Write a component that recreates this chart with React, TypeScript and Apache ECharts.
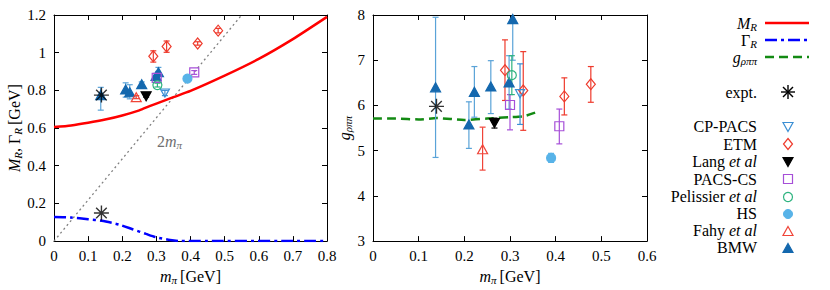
import React, { useEffect, useRef } from 'react';
import * as echarts from 'echarts';

// ---------- data ----------
// curves (left panel): [mπ, value]
const curveMassR = [[0, 0.605], [0.05, 0.614], [0.1, 0.628], [0.15, 0.645], [0.2, 0.667], [0.25, 0.694], [0.28, 0.716], [0.3, 0.73], [0.35, 0.764], [0.4, 0.797], [0.5, 0.878], [0.6, 0.967], [0.7, 1.072], [0.8, 1.19]];
const curveWidthR = [[0, 0.128], [0.05, 0.125], [0.1, 0.116], [0.14, 0.108], [0.19, 0.088], [0.23, 0.063], [0.27, 0.038], [0.3, 0.02], [0.34, 0.006], [0.37, 0], [0.8, 0]];
const line2mPi = [[0, 0], [0.55, 1.2]];
// curve (right panel)
const curveCoupling = [[0, 5.71], [0.05, 5.71], [0.1, 5.69], [0.14, 5.72], [0.2, 5.68], [0.25, 5.71], [0.3, 5.74], [0.33, 5.76], [0.355, 5.84]];

// lattice points: [mπ, value, low, high]
const expMass = [[0.139, 0.775], [0.139, 0.149]];
const expCoupling = [[0.139, 5.98]];

const cpPacsM = [[0.325, 0.786, 0.772, 0.8]];
const cpPacsG = [[0.322, 6.26, 5.58, 6.92]];
const etmM = [[0.291, 0.981, 0.95, 1.01], [0.33, 1.033, 1.002, 1.062], [0.421, 1.049, 1.04, 1.058], [0.481, 1.117, 1.105, 1.129]];
const etmG = [[0.289, 6.78, 6.11, 7.45], [0.329, 6.33, 5.45, 7.19], [0.419, 6.2, 5.79, 6.61], [0.477, 6.47, 6.07, 6.86]];
const langM = [[0.27, 0.769, 0.764, 0.774]];
const langG = [[0.266, 5.61, 5.5, 5.72]];
const pacsCsM = [[0.301, 0.866, 0.85, 0.882], [0.411, 0.895, 0.885, 0.905]];
const pacsCsG = [[0.3, 6.01, 5.46, 6.24], [0.408, 5.54, 5.15, 5.92]];
const pelissierM = [[0.303, 0.828, 0.818, 0.838]];
const pelissierG = [[0.304, 6.67, 6.24, 7.1]];
const hsM = [[0.391, 0.862, 0.855, 0.869]];
const hsG = [[0.39, 4.84, 4.74, 4.94]];
const fahyM = [[0.241, 0.764, 0.756, 0.772]];
const fahyG = [[0.24, 5.03, 4.57, 5.52]];
const bmwM = [[0.137, 0.775, 0.695, 0.816], [0.21, 0.805, 0.764, 0.84], [0.222, 0.79, 0.755, 0.83], [0.257, 0.833, 0.822, 0.845], [0.299, 0.876, 0.862, 0.89], [0.306, 0.896, 0.878, 0.922]];
const bmwG = [[0.137, 6.4, 4.85, 7.95], [0.21, 5.58, 5.05, 6.08], [0.222, 6.3, 5.74, 6.86], [0.258, 6.42, 5.82, 6.99], [0.298, 6.51, 5.92, 7.1], [0.306, 7.91, 7.0, 8.8]];

const leftXTicks = { min: 0, max: 0.8, interval: 0.1 };
const leftYTicks = { min: 0, max: 1.2, interval: 0.2 };
const rightXTicks = { min: 0, max: 0.6, interval: 0.1 };
const rightYTicks = { min: 3, max: 8, interval: 1 };

// ---------- styling ----------
const FONT = 'Liberation Serif';
const C = {
  mass: '#ff0000',
  width: '#0000ff',
  coup: '#138a13',
  cp: '#3b8fd4',
  etm: '#ee3a2c',
  lang: '#000000',
  pacs: '#a64fd8',
  pel: '#2db37f',
  hs: '#58b3e8',
  fahy: '#f04438',
  bmw: '#1468ae',
  bmwErr: '#5aa3d8',
};
const STAR = 'path://M10,0L10,20M0,10L20,10M2.93,2.93L17.07,17.07M2.93,17.07L17.07,2.93';
// rich styles for ECharts model texts (axis names)
const RICH = {
  i: { fontFamily: FONT, fontStyle: 'italic', fontSize: 16, color: '#000' },
  n: { fontFamily: FONT, fontSize: 16, color: '#000' },
  s: { fontFamily: FONT, fontStyle: 'italic', fontSize: 11, color: '#000', padding: [7, 0, 0, 0] },
};
// rich styles for graphic texts (zrender props)
const RICHG = {
  i: { fontFamily: FONT, fontStyle: 'italic', fontSize: 16, fill: '#000' },
  n: { fontFamily: FONT, fontSize: 16, fill: '#000' },
  s: { fontFamily: FONT, fontStyle: 'italic', fontSize: 11, fill: '#000', padding: [7, 0, 0, 0] },
};

function errSeries(data: number[][], color: string, xi: number, yi: number) {
  return {
    type: 'custom',
    xAxisIndex: xi,
    yAxisIndex: yi,
    data,
    clip: true,
    silent: true,
    z: 3,
    renderItem: (_p: any, api: any) => {
      const x = api.value(0);
      const a = api.coord([x, api.value(2)]);
      const b = api.coord([x, api.value(3)]);
      const w = 3;
      const st = { stroke: color, lineWidth: 1.2 };
      return {
        type: 'group',
        children: [
          { type: 'line', shape: { x1: a[0], y1: a[1], x2: b[0], y2: b[1] }, style: st },
          { type: 'line', shape: { x1: a[0] - w, y1: a[1], x2: a[0] + w, y2: a[1] }, style: st },
          { type: 'line', shape: { x1: b[0] - w, y1: b[1], x2: b[0] + w, y2: b[1] }, style: st },
        ],
      };
    },
  };
}

function ptSeries(data: number[][], xi: number, yi: number, symbol: string, size: number | number[], fill: string, stroke: string, rotate = 0, z = 5) {
  return {
    type: 'scatter',
    xAxisIndex: xi,
    yAxisIndex: yi,
    data: data.map((d) => [d[0], d[1]]),
    symbol,
    symbolSize: size,
    symbolRotate: rotate,
    silent: true,
    z,
    itemStyle: { color: fill, borderColor: stroke, borderWidth: 1.2, opacity: 1 },
  };
}

function lineSeries(data: number[][], xi: number, yi: number, color: string, type: any, width: number) {
  return {
    type: 'line',
    xAxisIndex: xi,
    yAxisIndex: yi,
    data,
    showSymbol: false,
    smooth: 0.2,
    silent: true,
    z: 2,
    lineStyle: { color, width, type },
  };
}

const NONE = 'rgba(0,0,0,0)';

function pointGroups(xi: number, yi: number, side: 'M' | 'G') {
  const L = side === 'M';
  const s: any[] = [];
  const groups: [number[][], string, string, string, number | number[], string, number][] = [
    [L ? bmwM : bmwG, C.bmwErr, 'triangle', C.bmw, [10, 9], C.bmw, 0],
    [L ? etmM : etmG, C.etm, 'diamond', NONE, [9, 11], C.etm, 0],
    [L ? cpPacsM : cpPacsG, C.cp, 'triangle', NONE, [9, 8], C.cp, 180],
    [L ? langM : langG, C.lang, 'triangle', C.lang, [10, 9], C.lang, 180],
    [L ? pacsCsM : pacsCsG, C.pacs, 'rect', NONE, 9, C.pacs, 0],
    [L ? pelissierM : pelissierG, C.pel, 'circle', NONE, 9, C.pel, 0],
    [L ? hsM : hsG, C.hs, 'circle', C.hs, 9, C.hs, 0],
    [L ? fahyM : fahyG, C.fahy, 'triangle', NONE, [10, 9], C.fahy, 0],
  ];
  for (const [d, ec, sym, fill, size, stroke, rot] of groups) {
    s.push(errSeries(d, ec, xi, yi));
    s.push(ptSeries(d, xi, yi, sym, size, fill, stroke, rot));
  }
  s.push({
    type: 'scatter',
    xAxisIndex: xi,
    yAxisIndex: yi,
    data: L ? expMass : expCoupling,
    symbol: STAR,
    symbolSize: 15,
    silent: true,
    z: 8,
    itemStyle: { color: NONE, borderColor: '#000', borderWidth: 1.4 },
  });
  return s;
}

function axisX(grid: number, t: any, pos: 'bottom' | 'top', name?: string) {
  return {
    type: 'value',
    gridIndex: grid,
    position: pos,
    min: t.min,
    max: t.max,
    interval: t.interval,
    axisLine: { show: true, onZero: false, lineStyle: { color: '#000', width: 1 } },
    axisTick: { show: true, inside: true, length: 5, lineStyle: { color: '#000', width: 1 } },
    axisLabel: { show: pos === 'bottom', color: '#000', fontFamily: FONT, fontSize: 15, margin: 7 },
    splitLine: { show: false },
    name: name || '',
    nameLocation: 'middle',
    nameGap: 25,
    nameTextStyle: { rich: RICH },
  };
}
function axisY(grid: number, t: any, pos: 'left' | 'right', name?: string, gap = 30) {
  return {
    type: 'value',
    gridIndex: grid,
    position: pos,
    min: t.min,
    max: t.max,
    interval: t.interval,
    axisLine: { show: true, onZero: false, lineStyle: { color: '#000', width: 1 } },
    axisTick: { show: true, inside: true, length: 5, lineStyle: { color: '#000', width: 1 } },
    axisLabel: { show: pos === 'left', color: '#000', fontFamily: FONT, fontSize: 15, margin: 8 },
    splitLine: { show: false },
    name: name || '',
    nameLocation: 'middle',
    nameRotate: 90,
    nameGap: gap,
    nameTextStyle: { rich: RICH },
  };
}

// ---------- legend (graphic) ----------
const LX = 757;
const MX = 788;
function legText(text: string, y: number) {
  return {
    type: 'text',
    x: LX,
    y,
    style: { text, align: 'right', verticalAlign: 'middle', fontFamily: FONT, fontSize: 16, fill: '#000', rich: RICHG },
  };
}
function legLine(y: number, color: string, dash: any) {
  return { type: 'line', shape: { x1: 765, y1: y, x2: 809, y2: y }, style: { stroke: color, lineWidth: 2.5, lineDash: dash } };
}
function tri(y: number, up: boolean, fill: string, stroke: string) {
  const h = 4.5;
  const pts = up
    ? [[MX, y - h], [MX + 5, y + h], [MX - 5, y + h]]
    : [[MX, y + h], [MX + 5, y - h], [MX - 5, y - h]];
  return { type: 'polygon', shape: { points: pts }, style: { fill, stroke, lineWidth: 1.2 } };
}
const legendGraphics: any[] = [
  legText('{i|M}{s|R}', 23), legLine(23, C.mass, null),
  legText('{n|Γ}{s|R}', 40), legLine(40, C.width, [12, 4, 3, 4]),
  legText('{i|g}{s|ρππ}', 57), legLine(57, C.coup, [9, 5]),
  legText('expt.', 92),
  {
    type: 'group', x: MX, y: 92,
    children: [
      { type: 'line', shape: { x1: 0, y1: -7, x2: 0, y2: 7 }, style: { stroke: '#000', lineWidth: 1.4 } },
      { type: 'line', shape: { x1: -7, y1: 0, x2: 7, y2: 0 }, style: { stroke: '#000', lineWidth: 1.4 } },
      { type: 'line', shape: { x1: -5, y1: -5, x2: 5, y2: 5 }, style: { stroke: '#000', lineWidth: 1.4 } },
      { type: 'line', shape: { x1: -5, y1: 5, x2: 5, y2: -5 }, style: { stroke: '#000', lineWidth: 1.4 } },
    ],
  },
  legText('CP-PACS', 126), tri(127, false, NONE, C.cp),
  legText('ETM', 144), { type: 'polygon', shape: { points: [[MX, 138.5], [MX + 4.5, 144], [MX, 149.5], [MX - 4.5, 144]] }, style: { fill: NONE, stroke: C.etm, lineWidth: 1.2 } },
  legText('Lang {i|et al}', 161), tri(162, false, C.lang, C.lang),
  legText('PACS-CS', 179), { type: 'rect', shape: { x: MX - 4.5, y: 174.5, width: 9, height: 9 }, style: { fill: NONE, stroke: C.pacs, lineWidth: 1.2 } },
  legText('Pelissier {i|et al}', 196), { type: 'circle', shape: { cx: MX, cy: 197, r: 4.5 }, style: { fill: NONE, stroke: C.pel, lineWidth: 1.2 } },
  legText('HS', 213), { type: 'circle', shape: { cx: MX, cy: 214, r: 4.5 }, style: { fill: C.hs, stroke: C.hs, lineWidth: 1 } },
  legText('Fahy {i|et al}', 230), tri(231, true, NONE, C.fahy),
  legText('BMW', 247), tri(248, true, C.bmw, C.bmw),
];

const annotation = {
  type: 'text',
  x: 157,
  y: 141,
  style: {
    text: '{g|2}{gi|m}{gs|π}',
    verticalAlign: 'middle',
    rich: {
      g: { fontFamily: FONT, fontSize: 16, fill: '#707070' },
      gi: { fontFamily: FONT, fontSize: 16, fontStyle: 'italic', fill: '#707070' },
      gs: { fontFamily: FONT, fontSize: 11, fontStyle: 'italic', fill: '#707070', padding: [7, 0, 0, 0] },
    },
  },
};

export default function App() {
  const ref = useRef<HTMLDivElement>(null);
  useEffect(() => {
    document.body.style.margin = '0';
    const chart = echarts.init(ref.current!, null, { renderer: 'svg' });
    const option: any = {
      animation: false,
      backgroundColor: '#fff',
      textStyle: { fontFamily: FONT },
      grid: [
        { left: 54, top: 15, width: 273, height: 232 },
        { left: 373, top: 15, width: 274, height: 232 },
      ],
      xAxis: [
        axisX(0, leftXTicks, 'bottom', '{i|m}{s|π} {n|[GeV]}'),
        axisX(0, leftXTicks, 'top'),
        axisX(1, rightXTicks, 'bottom', '{i|m}{s|π} {n|[GeV]}'),
        axisX(1, rightXTicks, 'top'),
      ],
      yAxis: [
        axisY(0, leftYTicks, 'left', '{i|M}{s|R}{n|, Γ}{s|R} {n|[GeV]}', 31),
        axisY(0, leftYTicks, 'right'),
        axisY(1, rightYTicks, 'left', '{i|g}{s|ρππ}', 19),
        axisY(1, rightYTicks, 'right'),
      ],
      series: [
        { ...lineSeries(line2mPi, 0, 0, '#808080', [2, 3], 1.3), smooth: false },
        lineSeries(curveMassR, 0, 0, C.mass, 'solid', 2.5),
        lineSeries(curveWidthR, 0, 0, C.width, [12, 4, 3, 4], 2.5),
        ...pointGroups(0, 0, 'M'),
        lineSeries(curveCoupling, 2, 2, C.coup, [9, 5], 2.5),
        ...pointGroups(2, 2, 'G'),
      ],
      graphic: [...legendGraphics, annotation],
    };
    chart.setOption(option);
    return () => chart.dispose();
  }, []);
  return <div ref={ref} style={{ width: 830, height: 290 }} />;
}
